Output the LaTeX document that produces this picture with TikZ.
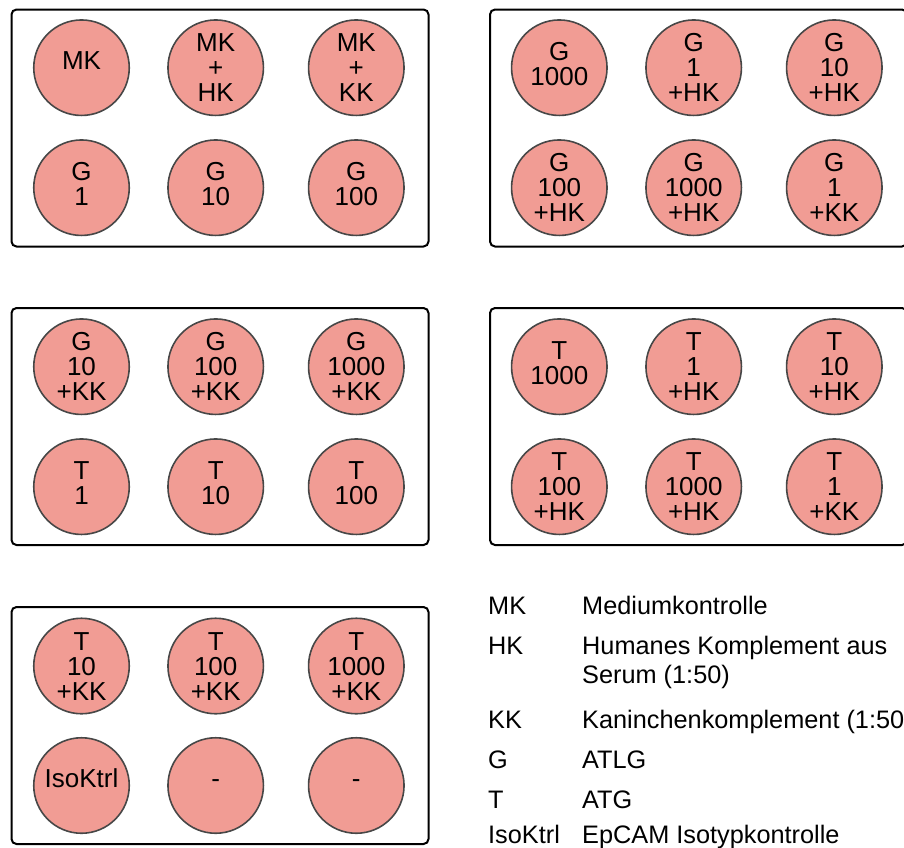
\documentclass[tikz,border=0pt]{standalone}
\usepackage{fontspec}
\setmainfont{Liberation Sans}
\definecolor{wellfill}{HTML}{F19C94}
\definecolor{wellline}{HTML}{474747}
\tikzset{
  plate/.style={rectangle, draw=black, line width=2pt, rounded corners=5pt,
    minimum width=417pt, minimum height=237pt, inner sep=0pt, anchor=north west},
  well/.style={circle, draw=wellline, line width=1.6pt, fill=wellfill,
    minimum size=95.5pt, inner sep=0pt},
  welltext/.style={anchor=base, inner sep=0pt, font=\fontsize{26}{25}\selectfont},
  legtext/.style={anchor=base west, inner sep=0pt, font=\fontsize{25.3}{25}\selectfont},
}
% \wellat{name}{x}{y}{number of lines}{line1,line2,...}
\newcommand\wellat[5]{%
  \node[well] (#1) at (#2,#3) {};
  \ifcase#4\or\def\wellbase{1.5}\or\def\wellbase{-7}\or\def\wellbase{-16}\fi
  \foreach \wl [count=\wi] in {#5} {
    \node[welltext] (#1-\wi) at (#2, #3+\wellbase+25*\wi-25) {\wl};
  }%
}
\begin{document}
\begin{tikzpicture}[x=1pt, y=-1pt]
  \useasboundingbox (0,0) rectangle (904,847);
  \clip (0,0) rectangle (904,847);

  % plates
  \node[plate] (plateA) at (10.5,8.5) {};
  \node[plate] (plateB) at (489,8.5) {};
  \node[plate] (plateC) at (10.5,307) {};
  \node[plate] (plateD) at (489,307) {};
  \node[plate] (plateE) at (10.5,606) {};

  % plate A
  \wellat{a1}{81.5}{67.7}{1}{MK}
  \wellat{a2}{215.7}{67.7}{3}{MK,+,HK}
  \wellat{a3}{356.3}{67.7}{3}{MK,+,KK}
  \wellat{a4}{81.5}{187.7}{2}{G,1}
  \wellat{a5}{215.7}{187.7}{2}{G,10}
  \wellat{a6}{356.3}{187.7}{2}{G,100}

  % plate B
  \wellat{b1}{559.3}{67.7}{2}{G,1000}
  \wellat{b2}{693.7}{67.7}{3}{G,1,+HK}
  \wellat{b3}{834.3}{67.7}{3}{G,10,+HK}
  \wellat{b4}{559.3}{187.7}{3}{G,100,+HK}
  \wellat{b5}{693.7}{187.7}{3}{G,1000,+HK}
  \wellat{b6}{834.3}{187.7}{3}{G,1,+KK}

  % plate C
  \wellat{c1}{81.5}{366.7}{3}{G,10,+KK}
  \wellat{c2}{215.7}{366.7}{3}{G,100,+KK}
  \wellat{c3}{356.3}{366.7}{3}{G,1000,+KK}
  \wellat{c4}{81.5}{486.7}{2}{T,1}
  \wellat{c5}{215.7}{486.7}{2}{T,10}
  \wellat{c6}{356.3}{486.7}{2}{T,100}

  % plate D
  \wellat{d1}{559.3}{366.7}{2}{T,1000}
  \wellat{d2}{693.7}{366.7}{3}{T,1,+HK}
  \wellat{d3}{834.3}{366.7}{3}{T,10,+HK}
  \wellat{d4}{559.3}{486.7}{3}{T,100,+HK}
  \wellat{d5}{693.7}{486.7}{3}{T,1000,+HK}
  \wellat{d6}{834.3}{486.7}{3}{T,1,+KK}

  % plate E
  \wellat{e1}{81.5}{666}{3}{T,10,+KK}
  \wellat{e2}{215.7}{666}{3}{T,100,+KK}
  \wellat{e3}{356.3}{666}{3}{T,1000,+KK}
  \wellat{e4}{81.5}{785.5}{1}{IsoKtrl}
  \wellat{e5}{215.7}{785.5}{1}{-}
  \wellat{e6}{356.3}{785.5}{1}{-}

  % legend
  \node[legtext] (kMK)  at (488,614.5) {MK};
  \node[legtext] (vMK)  at (582,614.5) {Mediumkontrolle};
  \node[legtext] (kHK)  at (488,654)   {HK};
  \node[legtext] (vHK)  at (582,654)   {Humanes Komplement aus};
  \node[legtext] (vHK2) at (582,683.5) {Serum (1:50)};
  \node[legtext] (kKK)  at (488,728.5) {KK};
  \node[legtext] (vKK)  at (582,728.5) {Kaninchenkomplement (1:50)};
  \node[legtext] (kG)   at (488,768.5) {G};
  \node[legtext] (vG)   at (582,768.5) {ATLG};
  \node[legtext] (kT)   at (488,808.5) {T};
  \node[legtext] (vT)   at (582,808.5) {ATG};
  \node[legtext] (kIso) at (488,843.5) {IsoKtrl};
  \node[legtext] (vIso) at (582,843.5) {EpCAM Isotypkontrolle};
\end{tikzpicture}
\end{document}
